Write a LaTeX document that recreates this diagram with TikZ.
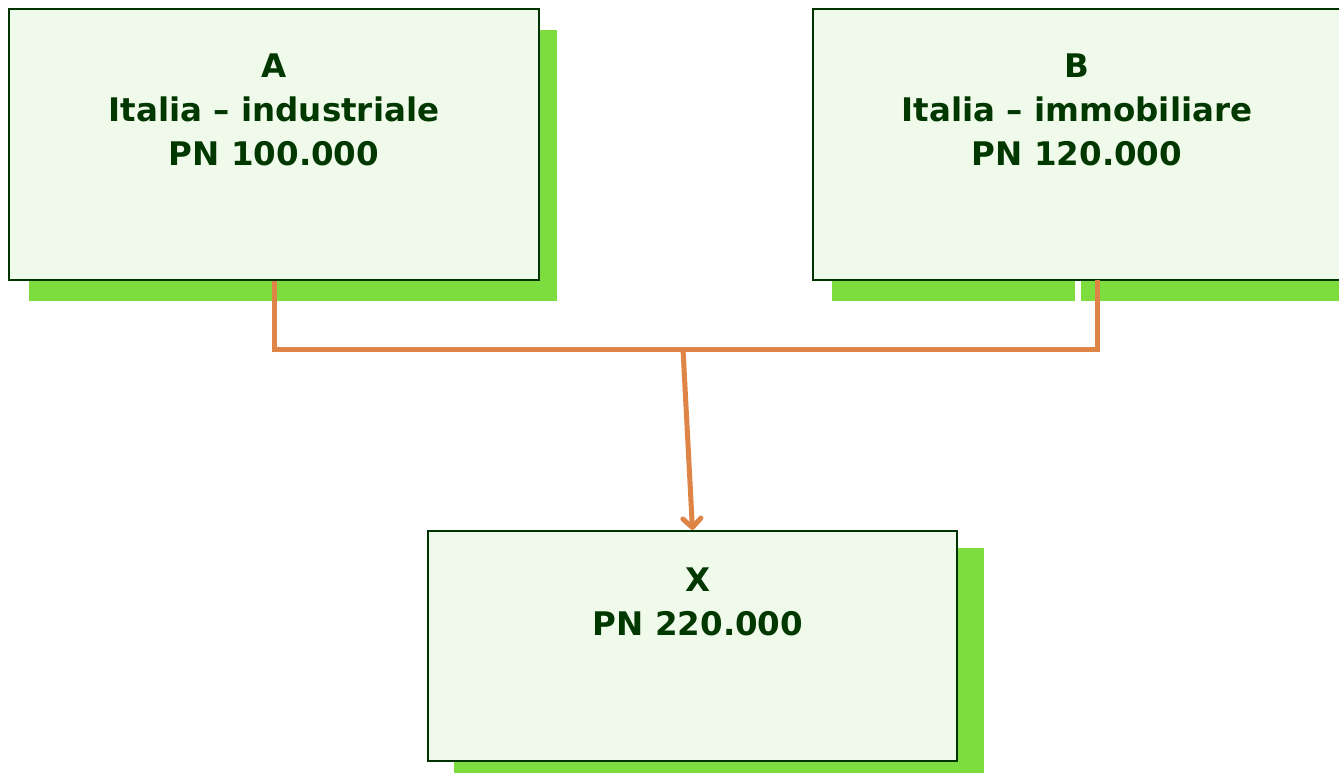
\documentclass[tikz,border=0pt]{standalone}
\usepackage{fontspec}
\setmainfont{DejaVu Sans}
\usetikzlibrary{arrows.meta}
\definecolor{boxfill}{HTML}{F0FAEA}
\definecolor{boxline}{HTML}{003300}
\definecolor{shadowgreen}{HTML}{7EDD3E}
\definecolor{txtgreen}{HTML}{003800}
\definecolor{conn}{HTML}{DE8446}
\tikzset{
  box/.style={draw=boxline, fill=boxfill, line width=2pt, inner sep=0pt},
  shadowbox/.style={fill=shadowgreen},
  lbl/.style={text=txtgreen, font=\bfseries\fontsize{32.5}{44}\selectfont, align=center, inner sep=0pt, anchor=north},
  link/.style={draw=conn, line width=5pt},
}
\begin{document}
\begin{tikzpicture}[x=1pt,y=-1pt]
\useasboundingbox (0,0) rectangle (1339,772);
% shadows
\fill[shadowgreen] (29,30) rectangle (557,301);
\fill[shadowgreen] (832,30) rectangle (1075,301);
\fill[shadowgreen] (1081,30) rectangle (1345,301);
\fill[shadowgreen] (454,548) rectangle (984,775);
% boxes
\node[box, minimum width=530pt, minimum height=271pt] (A) at (274,144.5) {};
\node[box, minimum width=530pt, minimum height=271pt] (B) at (1078,144.5) {};
\node[box, minimum width=529pt, minimum height=230pt] (X) at (692.5,646) {};
% texts
\node[lbl] (At) at (274,53.5) {A\\Italia – industriale\\PN 100.000};
\node[lbl] (Bt) at (1077,53.5) {B\\Italia – immobiliare\\PN 120.000};
\node[lbl] (Xt) at (698,567.5) {X\\PN 220.000};
% connectors
\coordinate (J) at (683,349);
\coordinate (Bin) at (1097,280);
\draw[link, line cap=butt] (A.south) |- (J) -| (Bin);
\draw[link, -{Straight Barb[length=9pt,width=18pt,round]}] (J) -- (X.north);
\end{tikzpicture}
\end{document}
